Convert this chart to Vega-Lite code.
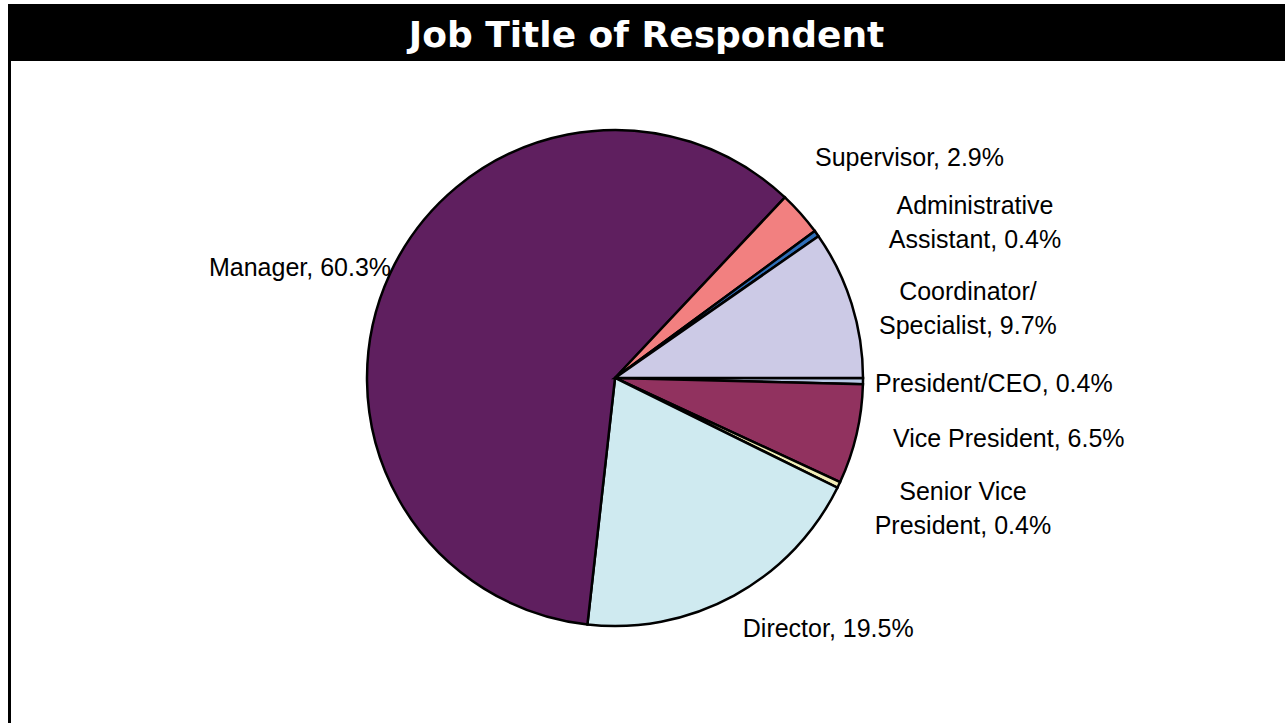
{
  "$schema": "https://vega.github.io/schema/vega-lite/v6.json",
  "background": "white",
  "padding": {"left": 8, "top": 4, "right": 0, "bottom": 0},
  "bounds": "flush",
  "spacing": 0,
  "config": {
    "view": {"stroke": null},
    "concat": {"spacing": 0},
    "text": {"font": "Liberation Sans", "fontSize": 25, "lineHeight": 34, "lineBreak": "\n", "color": "black", "baseline": "middle"}
  },
  "datasets": {
    "jobs": [
      {"job": "President/CEO", "pct": 0.4, "label": "President/CEO, 0.4%"},
      {"job": "Vice President", "pct": 6.5, "label": "Vice President, 6.5%"},
      {"job": "Senior Vice President", "pct": 0.4, "label": "Senior Vice\nPresident, 0.4%"},
      {"job": "Director", "pct": 19.5, "label": "Director, 19.5%"},
      {"job": "Manager", "pct": 60.3, "label": "Manager, 60.3%"},
      {"job": "Supervisor", "pct": 2.9, "label": "Supervisor, 2.9%"},
      {"job": "Administrative Assistant", "pct": 0.4, "label": "Administrative\nAssistant, 0.4%"},
      {"job": "Coordinator/Specialist", "pct": 9.7, "label": "Coordinator/\nSpecialist, 9.7%"}
    ]
  },
  "vconcat": [
    {
      "width": 1277,
      "height": 57,
      "view": {"fill": "black", "stroke": null},
      "data": {"values": [{"heading": "Job Title of Respondent"}]},
      "mark": {"type": "text", "color": "white", "font": "DejaVu Sans", "fontWeight": "bold", "fontSize": 36, "baseline": "middle", "align": "center", "dy": 3},
      "encoding": {"text": {"field": "heading"}}
    },
    {
      "bounds": "flush",
      "spacing": 0,
      "hconcat": [
        {
          "width": 3,
          "height": 662,
          "view": {"fill": "black", "stroke": null},
          "data": {"values": [{"edge": "left"}]},
          "mark": {"type": "rect", "color": "black"},
          "encoding": {}
        },
        {
          "width": 1208,
          "height": 634,
          "data": {"name": "jobs"},
          "transform": [{"window": [{"op": "row_number", "as": "idx"}]}],
          "encoding": {
            "theta": {"field": "pct", "type": "quantitative", "stack": true, "scale": {"range": [1.5708, 7.854]}},
            "order": {"field": "idx", "type": "quantitative"},
            "detail": {"field": "job", "type": "nominal"}
          },
          "layer": [
            {
              "mark": {"type": "arc", "radius": 248, "stroke": "black", "strokeWidth": 2.5},
              "encoding": {
                "color": {
                  "field": "job",
                  "type": "nominal",
                  "legend": null,
                  "scale": {
                    "domain": ["President/CEO", "Vice President", "Senior Vice President", "Director", "Manager", "Supervisor", "Administrative Assistant", "Coordinator/Specialist"],
                    "range": ["#b9c9e6", "#91325f", "#f2eeb8", "#cfeaf0", "#5f1f5f", "#f28080", "#2f6eb8", "#cccae6"]
                  }
                }
              }
            },
            {
              "mark": {"type": "text", "align": "right", "radius": 249.6, "thetaOffset": 0.024},
              "encoding": {"text": {"condition": {"test": "datum.job === 'Manager'", "field": "label"}, "value": ""}}
            },
            {
              "mark": {"type": "text", "align": "left", "radius": 297.3, "thetaOffset": -0.108},
              "encoding": {"text": {"condition": {"test": "datum.job === 'Supervisor'", "field": "label"}, "value": ""}}
            },
            {
              "mark": {"type": "text", "align": "center", "radius": 399, "thetaOffset": 0.1756},
              "encoding": {"text": {"condition": {"test": "datum.job === 'Administrative Assistant'", "field": "label"}, "value": ""}}
            },
            {
              "mark": {"type": "text", "align": "center", "radius": 363.3, "thetaOffset": 0.0648},
              "encoding": {"text": {"condition": {"test": "datum.job === 'Coordinator/Specialist'", "field": "label"}, "value": ""}}
            },
            {
              "mark": {"type": "text", "align": "left", "radius": 260.1, "thetaOffset": 0.0105},
              "encoding": {"text": {"condition": {"test": "datum.job === 'President/CEO'", "field": "label"}, "value": ""}}
            },
            {
              "mark": {"type": "text", "align": "left", "radius": 284.6, "thetaOffset": -0.012},
              "encoding": {"text": {"condition": {"test": "datum.job === 'Vice President'", "field": "label"}, "value": ""}}
            },
            {
              "mark": {"type": "text", "align": "center", "radius": 366.2, "thetaOffset": -0.1285},
              "encoding": {"text": {"condition": {"test": "datum.job === 'Senior Vice President'", "field": "label"}, "value": ""}}
            },
            {
              "mark": {"type": "text", "align": "left", "radius": 281.8, "thetaOffset": 0.03},
              "encoding": {"text": {"condition": {"test": "datum.job === 'Director'", "field": "label"}, "value": ""}}
            }
          ]
        }
      ]
    }
  ]
}
